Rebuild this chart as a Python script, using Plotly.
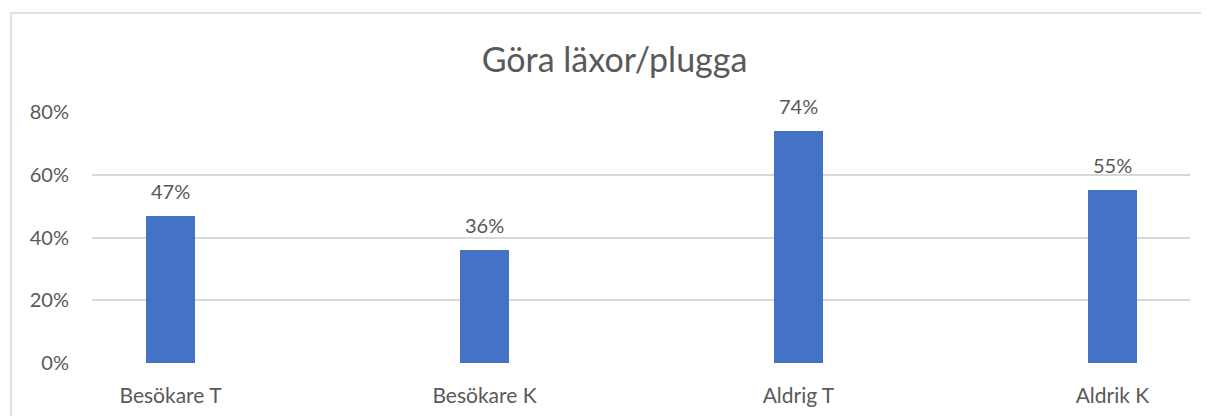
import plotly.graph_objects as go

# data
kategorier = ["Besökare T", "Besökare K", "Aldrig T", "Aldrik K"]
andelar = [0.47, 0.36, 0.74, 0.55]
y_ticks = [0, 0.2, 0.4, 0.6, 0.8]

grå = "#595959"
blå = "#4472C4"
font = "Lato, 'Open Sans', sans-serif"

pos = list(range(len(kategorier)))

fig = go.Figure()
fig.add_trace(go.Bar(x=pos, y=andelar, width=0.156, marker=dict(color=blå, line=dict(width=0)),
                     hoverinfo="skip"))

# value labels above the bars
for x, v in zip(pos, andelar):
    fig.add_annotation(x=x, y=v, text=f"{v:.0%}", showarrow=False, yanchor="middle", yshift=25,
                       font=dict(size=20, color=grå, family=font))

# chart border (only top and left visible in the reference)
fig.add_shape(type="rect", xref="paper", yref="paper", x0=-0.0738, x1=1.03, y0=-0.4, y1=1.394,
              line=dict(color="#D9D9D9", width=1.5), layer="below")

# the page body has an 8px margin, so the figure is 8px smaller than the window
fig.update_layout(
    width=1201, height=408,
    margin=dict(l=84, r=19, t=104, b=53),
    paper_bgcolor="white", plot_bgcolor="white",
    title=dict(text="Göra läxor/plugga", x=0.505, xanchor="center", y=0.8725, yanchor="middle",
               xref="container", yref="container", font=dict(size=34, color=grå, family=font)),
    font=dict(family=font, color=grå, size=20),
    showlegend=False,
    bargap=0,
)
fig.update_xaxes(range=[-0.25, 3.247], tickvals=pos, ticktext=kategorier, showgrid=False,
                 zeroline=False, showline=False, ticks="", ticklabelstandoff=18, automargin=False,
                 tickfont=dict(size=21, color=grå))
fig.update_yaxes(range=[0, 0.8], tickvals=y_ticks, tickformat=".0%", showgrid=True,
                 gridcolor="#D9D9D9", gridwidth=1.5, zeroline=False, showline=False, ticks="",
                 ticklabelstandoff=22, automargin=False, tickfont=dict(size=20, color=grå))

fig.write_html("out.html")
